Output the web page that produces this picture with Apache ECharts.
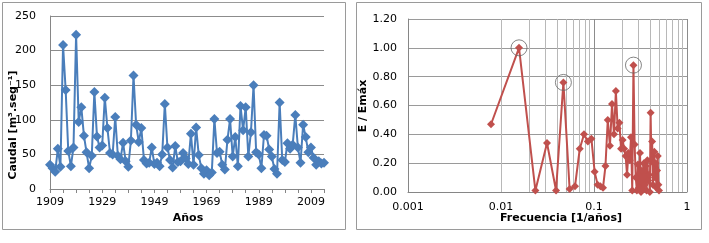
<!DOCTYPE html>
<html>
<head>
<meta charset="utf-8">
<script src="https://cdn.jsdelivr.net/npm/echarts@6/dist/echarts.min.js"></script>
<style>
html,body{margin:0;padding:0;background:#fff;}
#c{width:709px;height:243px;}
</style>
</head>
<body>
<div id="c"></div>
<script>
// ---- Left chart data: annual discharge ----
var years = [1909,1910,1911,1912,1913,1914,1915,1916,1917,1918,1919,1920,1921,1922,1923,1924,1925,1926,1927,1928,1929,1930,1931,1932,1933,1934,1935,1936,1937,1938,1939,1940,1941,1942,1943,1944,1945,1946,1947,1948,1949,1950,1951,1952,1953,1954,1955,1956,1957,1958,1959,1960,1961,1962,1963,1964,1965,1966,1967,1968,1969,1970,1971,1972,1973,1974,1975,1976,1977,1978,1979,1980,1981,1982,1983,1984,1985,1986,1987,1988,1989,1990,1991,1992,1993,1994,1995,1996,1997,1998,1999,2000,2001,2002,2003,2004,2005,2006,2007,2008,2009,2010,2011,2012,2013,2014];
var caudal = [35,30,25,58,32,208,143,55,33,60,223,97,118,77,53,30,48,140,76,60,63,132,88,52,50,104,48,43,67,40,32,70,164,93,68,88,42,37,38,60,36,38,33,50,123,60,42,31,62,39,40,52,44,36,80,35,89,49,30,22,27,20,24,101,52,54,35,28,71,101,47,75,33,120,85,118,47,82,150,53,50,30,78,77,57,47,29,22,125,42,39,66,58,64,107,60,38,93,75,53,60,45,35,40,37,38];
var yearTickLabels = [1909,1929,1949,1969,1989,2009];

// ---- Right chart data: normalized spectrum E/Emax vs frequency k/128 ----
var harmonics = [1,2,3,4,5,6,7,8,9,10,11,12,13,14,15,16,17,18,19,20,21,22,23,24,25,26,27,28,29,30,31,32,33,34,35,36,37,38,39,40,41,42,43,44,45,46,47,48,49,50,51,52,53,54,55,56,57,58,59,60,61,62,63,64];
var seriesLength = 128;
var energy = [0.47,1.00,0.01,0.34,0.01,0.76,0.02,0.04,0.30,0.40,0.35,0.37,0.14,0.05,0.04,0.03,0.18,0.50,0.32,0.61,0.40,0.70,0.44,0.48,0.30,0.36,0.30,0.25,0.12,0.27,0.22,0.38,0.01,0.88,0.33,0.10,0.01,0.19,0.03,0.27,0.00,0.15,0.02,0.20,0.05,0.18,0.01,0.22,0.08,0.12,0.00,0.55,0.22,0.35,0.05,0.20,0.28,0.10,0.20,0.03,0.15,0.25,0.05,0.01];
var peakIdx = [1,5,33];
var freqTickLabels = ['0.001','0.01','0.1','1'];

var FONT = 'DejaVu Sans';
var chart = echarts.init(document.getElementById('c'), null, {renderer:'canvas'});

var freq = harmonics.map(function(k){return k/seriesLength;});
var specData = freq.map(function(f,i){return [f, energy[i]];});
var peakData = peakIdx.map(function(i){return [freq[i], energy[i]];});

var minorLines = [];
[0.001,0.01,0.1].forEach(function(d){
  for (var m=2;m<=9;m++){ minorLines.push({xAxis: +(d*m).toPrecision(3)}); }
});

var option = {
  backgroundColor:'#fff',
  animation:false,
  textStyle:{fontFamily:FONT},
  grid:[
    {left:50, right:385, top:16, bottom:54},
    {left:408, right:22, top:19, bottom:51}
  ],
  xAxis:[
    {
      type:'category', gridIndex:0, data:years, boundaryGap:false,
      axisLine:{lineStyle:{color:'#868686', width:1}},
      axisTick:{show:true, length:4, inside:false, lineStyle:{color:'#868686'},
        interval:function(i){return i%5===0;}},
      axisLabel:{color:'#000', fontSize:11, fontFamily:FONT, margin:8,
        interval:function(i,v){return yearTickLabels.indexOf(+v)>=0;}},
      splitLine:{show:false}
    },
    {
      type:'log', logBase:10, gridIndex:1, min:0.001, max:1,
      axisLine:{show:true, onZero:false, lineStyle:{color:'#868686'}},
      axisTick:{show:false},
      axisLabel:{color:'#000', fontSize:11, fontFamily:FONT, margin:10,
        formatter:function(v){
          var s = freqTickLabels.filter(function(t){return Math.abs(+t - v) < v*1e-6;});
          return s.length ? s[0] : '';
        }},
      splitLine:{show:true, lineStyle:{color:'#8c8c8c', width:1}}
    }
  ],
  yAxis:[
    {
      type:'value', gridIndex:0, min:0, max:250, interval:50,
      axisLine:{show:true, lineStyle:{color:'#868686'}},
      axisTick:{show:false},
      axisLabel:{color:'#000', fontSize:11, fontFamily:FONT, margin:14},
      splitLine:{show:true, lineStyle:{color:'#8c8c8c', width:1}}
    },
    {
      type:'value', gridIndex:1, min:0, max:1.2, interval:0.2,
      axisLine:{show:true, lineStyle:{color:'#868686'}},
      axisTick:{show:false},
      axisLabel:{color:'#000', fontSize:11, fontFamily:FONT, margin:11,
        formatter:function(v){return v.toFixed(2);}},
      splitLine:{show:true, lineStyle:{color:'#9a9a9a', width:1}}
    }
  ],
  series:[
    {
      type:'line', xAxisIndex:0, yAxisIndex:0, data:caudal,
      symbol:'diamond', symbolSize:10, showAllSymbol:true,
      lineStyle:{color:'#4A7EBB', width:2},
      itemStyle:{color:'#4A7EBB'}
    },
    {
      type:'line', xAxisIndex:1, yAxisIndex:1, data:specData,
      symbol:'diamond', symbolSize:8, showAllSymbol:true,
      lineStyle:{color:'#C0504D', width:2},
      itemStyle:{color:'#C0504D'},
      z:3,
      markLine:{
        silent:true, symbol:['none','none'], label:{show:false},
        lineStyle:{color:'#b8b8b8', width:1, type:'solid'},
        data:minorLines, z:1, animation:false
      }
    },
    {
      type:'scatter', xAxisIndex:1, yAxisIndex:1, data:peakData,
      symbol:'circle', symbolSize:16, silent:true,
      itemStyle:{color:'rgba(0,0,0,0)', borderColor:'#666', borderWidth:1},
      z:4
    }
  ],
  graphic:[
    {type:'rect', shape:{x:2.5,y:2.5,width:343,height:227}, style:{fill:'none', stroke:'#9a9a9a', lineWidth:1}, silent:true},
    {type:'rect', shape:{x:356.5,y:2.5,width:345,height:227}, style:{fill:'none', stroke:'#9a9a9a', lineWidth:1}, silent:true},
    {type:'text', x:13, y:125, rotation:Math.PI/2, style:{text:'Caudal [m³.seg⁻¹]', font:'bold 11px "DejaVu Sans"', fill:'#000', align:'center', verticalAlign:'middle'}},
    {type:'text', x:188, y:218, style:{text:'Años', font:'bold 11px "DejaVu Sans"', fill:'#000', align:'center', verticalAlign:'middle'}},
    {type:'text', x:363, y:106, rotation:Math.PI/2, style:{text:'E / Emáx', font:'bold 11px "DejaVu Sans"', fill:'#000', align:'center', verticalAlign:'middle'}},
    {type:'text', x:561, y:218, style:{text:'Frecuencia [1/años]', font:'bold 11px "DejaVu Sans"', fill:'#000', align:'center', verticalAlign:'middle'}}
  ]
};
chart.setOption(option);
</script>
</body>
</html>
